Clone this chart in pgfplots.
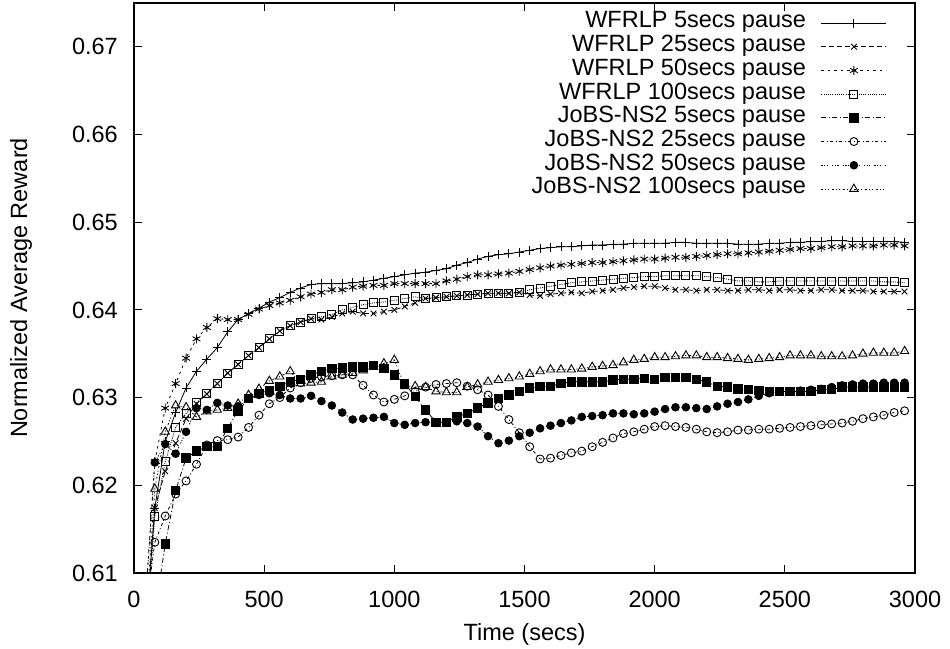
\documentclass[border=0pt]{standalone}
\usepackage{pgfplots}
\pgfplotsset{compat=1.18}
\usepackage{pgfplotstable}
\usepackage{fontspec}
\setmainfont{Liberation Sans}

\pgfplotstableread{
t w5 w25 w50 w100 j5 j25 j50 j100
40 0.6020 0.6010 0.6050 0.6000 0.5950 0.6043 0.6050 0.6020
80 0.6174 0.6174 0.6227 0.6165 0.6054 0.6135 0.6226 0.6196
120 0.6250 0.6216 0.6288 0.6227 0.6133 0.6165 0.6247 0.6261
160 0.6283 0.6248 0.6316 0.6266 0.6194 0.6190 0.6236 0.6291
200 0.6311 0.6276 0.6345 0.6282 0.6231 0.6205 0.6261 0.6289
240 0.6330 0.6293 0.6367 0.6294 0.6239 0.6224 0.6288 0.6278
280 0.6344 0.6304 0.6380 0.6305 0.6244 0.6246 0.6286 0.6284
320 0.6357 0.6316 0.6390 0.6316 0.6244 0.6251 0.6294 0.6286
360 0.6375 0.6328 0.6389 0.6328 0.6265 0.6252 0.6291 0.6288
400 0.6389 0.6338 0.6389 0.6338 0.6285 0.6255 0.6290 0.6293
440 0.6396 0.6348 0.6395 0.6348 0.6299 0.6266 0.6299 0.6303
480 0.6402 0.6357 0.6401 0.6357 0.6305 0.6280 0.6303 0.6310
520 0.6409 0.6367 0.6405 0.6367 0.6308 0.6293 0.6305 0.6319
560 0.6414 0.6376 0.6408 0.6376 0.6313 0.6300 0.6303 0.6324
600 0.6420 0.6382 0.6411 0.6382 0.6318 0.6311 0.6299 0.6330
640 0.6425 0.6386 0.6415 0.6386 0.6321 0.6317 0.6299 0.6316
680 0.6429 0.6390 0.6418 0.6390 0.6326 0.6322 0.6302 0.6317
720 0.6430 0.6389 0.6420 0.6392 0.6330 0.6324 0.6296 0.6318
760 0.6430 0.6392 0.6423 0.6395 0.6333 0.6325 0.6291 0.6324
800 0.6430 0.6396 0.6423 0.6400 0.6334 0.6326 0.6283 0.6326
840 0.6431 0.6398 0.6426 0.6403 0.6335 0.6326 0.6275 0.6328
880 0.6432 0.6396 0.6427 0.6406 0.6335 0.6314 0.6276 0.6331
920 0.6434 0.6396 0.6428 0.6408 0.6337 0.6303 0.6277 0.6335
960 0.6436 0.6398 0.6428 0.6409 0.6333 0.6295 0.6278 0.6339
1000 0.6438 0.6400 0.6430 0.6411 0.6326 0.6298 0.6271 0.6343
1040 0.6440 0.6404 0.6430 0.6413 0.6316 0.6302 0.6269 0.6313
1080 0.6442 0.6408 0.6430 0.6415 0.6301 0.6307 0.6271 0.6313
1120 0.6443 0.6413 0.6430 0.6413 0.6286 0.6312 0.6272 0.6312
1160 0.6445 0.6414 0.6430 0.6414 0.6272 0.6315 0.6271 0.6307
1200 0.6447 0.6415 0.6433 0.6415 0.6272 0.6316 0.6272 0.6306
1240 0.6451 0.6416 0.6435 0.6416 0.6278 0.6317 0.6273 0.6306
1280 0.6454 0.6417 0.6438 0.6417 0.6282 0.6313 0.6271 0.6312
1320 0.6458 0.6418 0.6440 0.6418 0.6288 0.6309 0.6267 0.6315
1360 0.6461 0.6419 0.6440 0.6419 0.6294 0.6303 0.6256 0.6318
1400 0.6463 0.6419 0.6441 0.6419 0.6299 0.6290 0.6248 0.6320
1440 0.6464 0.6419 0.6442 0.6419 0.6303 0.6275 0.6251 0.6322
1480 0.6466 0.6420 0.6444 0.6420 0.6307 0.6260 0.6256 0.6324
1520 0.6468 0.6417 0.6446 0.6423 0.6311 0.6244 0.6260 0.6327
1560 0.6470 0.6416 0.6448 0.6425 0.6313 0.6230 0.6265 0.6330
1600 0.6471 0.6418 0.6450 0.6427 0.6313 0.6231 0.6268 0.6332
1640 0.6472 0.6419 0.6451 0.6429 0.6316 0.6234 0.6271 0.6332
1680 0.6472 0.6420 0.6452 0.6431 0.6318 0.6237 0.6274 0.6332
1720 0.6473 0.6419 0.6453 0.6432 0.6318 0.6239 0.6278 0.6333
1760 0.6474 0.6421 0.6454 0.6433 0.6318 0.6244 0.6279 0.6335
1800 0.6474 0.6422 0.6454 0.6434 0.6318 0.6249 0.6280 0.6336
1840 0.6475 0.6423 0.6455 0.6435 0.6320 0.6254 0.6282 0.6337
1880 0.6475 0.6425 0.6456 0.6436 0.6321 0.6259 0.6282 0.6340
1920 0.6476 0.6426 0.6457 0.6437 0.6321 0.6261 0.6281 0.6343
1960 0.6476 0.6427 0.6458 0.6438 0.6322 0.6264 0.6282 0.6344
2000 0.6476 0.6427 0.6458 0.6438 0.6321 0.6267 0.6284 0.6346
2040 0.6476 0.6425 0.6459 0.6439 0.6323 0.6268 0.6287 0.6346
2080 0.6477 0.6423 0.6460 0.6439 0.6323 0.6267 0.6289 0.6347
2120 0.6477 0.6423 0.6460 0.6439 0.6323 0.6266 0.6289 0.6348
2160 0.6476 0.6422 0.6461 0.6439 0.6321 0.6264 0.6288 0.6348
2200 0.6476 0.6423 0.6462 0.6438 0.6318 0.6261 0.6287 0.6346
2240 0.6476 0.6423 0.6463 0.6437 0.6313 0.6260 0.6290 0.6346
2280 0.6476 0.6422 0.6464 0.6435 0.6312 0.6261 0.6293 0.6345
2320 0.6475 0.6422 0.6464 0.6433 0.6310 0.6263 0.6295 0.6344
2360 0.6475 0.6423 0.6465 0.6433 0.6309 0.6263 0.6298 0.6343
2400 0.6475 0.6423 0.6466 0.6432 0.6308 0.6264 0.6302 0.6344
2440 0.6476 0.6422 0.6467 0.6432 0.6307 0.6264 0.6305 0.6345
2480 0.6476 0.6423 0.6468 0.6433 0.6307 0.6265 0.6307 0.6346
2520 0.6477 0.6423 0.6469 0.6433 0.6307 0.6266 0.6307 0.6348
2560 0.6477 0.6422 0.6470 0.6433 0.6307 0.6267 0.6308 0.6348
2600 0.6478 0.6422 0.6470 0.6433 0.6307 0.6268 0.6309 0.6348
2640 0.6478 0.6423 0.6471 0.6433 0.6309 0.6269 0.6310 0.6347
2680 0.6479 0.6423 0.6472 0.6433 0.6309 0.6270 0.6312 0.6347
2720 0.6479 0.6422 0.6472 0.6433 0.6312 0.6271 0.6314 0.6347
2760 0.6478 0.6422 0.6473 0.6433 0.6312 0.6273 0.6315 0.6348
2800 0.6478 0.6422 0.6473 0.6433 0.6312 0.6276 0.6316 0.6350
2840 0.6478 0.6421 0.6473 0.6433 0.6312 0.6278 0.6316 0.6351
2880 0.6478 0.6421 0.6474 0.6432 0.6312 0.6280 0.6317 0.6351
2920 0.6478 0.6421 0.6474 0.6432 0.6312 0.6283 0.6317 0.6351
2960 0.6477 0.6421 0.6473 0.6431 0.6312 0.6285 0.6317 0.6353
}\data

\begin{document}
\begin{tikzpicture}[font=\fontsize{23.5}{28}\selectfont]
\useasboundingbox (-134pt,-75pt) rectangle (816pt,573pt);
\begin{axis}[
  scale only axis,
  width=781pt, height=570pt,
  xmin=0, xmax=3000, ymin=0.61, ymax=0.675,
  xtick={0,500,1000,1500,2000,2500,3000},
  ytick={0.61,0.62,0.63,0.64,0.65,0.66,0.67},
  tick align=inside,
  tick pos=both,
  major tick length=8pt,
  scaled ticks=false,
  /pgf/number format/assume math mode=true,
  x tick label style={/pgf/number format/1000 sep={}, anchor=north, inner sep=0pt, yshift=-18pt},
  y tick label style={/pgf/number format/.cd, fixed, fixed zerofill, precision=2, /tikz/.cd, anchor=east, inner sep=0pt, xshift=-16pt},
  xlabel={Time (secs)},
  ylabel={Normalized Average Reward},
  xlabel style={at={(axis description cs:0.5,-0.107)}, anchor=center},
  ylabel style={at={(axis description cs:-0.1447,0.5)}, anchor=center},
  axis line style={line width=1.3pt},
  every tick/.style={line width=1pt, black},
  legend plot pos=right,
  legend cell align=right,
  legend style={draw=none, fill=none, at={(1,1)}, anchor=north east, xshift=-28pt, yshift=-8pt,
    inner sep=0pt, row sep=0pt, column sep=0pt,
    nodes={inner sep=0pt, inner xsep=15pt, text height=16.8pt, text depth=6.9pt}},
  legend image code/.code={\draw[mark repeat=2, mark phase=2] plot coordinates {(0pt,0pt) (32.5pt,0pt) (65pt,0pt)};},
  every axis plot/.append style={black, line width=0.8pt, mark options={solid, line width=0.9pt}},
]
\addplot[mark=+, mark size=4.5pt] table[x=t, y=w5] {\data};
\addlegendentry{WFRLP 5secs pause}
\addplot[dash pattern=on 5pt off 3pt, mark=x, mark size=4pt] table[x=t, y=w25] {\data};
\addlegendentry{WFRLP 25secs pause}
\addplot[dash pattern=on 2.5pt off 4pt, mark=asterisk, mark size=4.5pt] table[x=t, y=w50] {\data};
\addlegendentry{WFRLP 50secs pause}
\addplot[dash pattern=on 1pt off 1.2pt, mark=square, mark size=4pt] table[x=t, y=w100] {\data};
\addlegendentry{WFRLP 100secs pause}
\addplot[dash pattern=on 5pt off 2.5pt on 1pt off 2.5pt, mark=square*, mark size=4.2pt] table[x=t, y=j5] {\data};
\addlegendentry{JoBS-NS2 5secs pause}
\addplot[dash pattern=on 3pt off 2.5pt on 1pt off 2.5pt, mark=o, mark size=4pt] table[x=t, y=j25] {\data};
\addlegendentry{JoBS-NS2 25secs pause}
\addplot[dash pattern=on 1.2pt off 1.5pt on 1.2pt off 1.5pt on 1.2pt off 4pt, mark=*, mark size=3.8pt] table[x=t, y=j50] {\data};
\addlegendentry{JoBS-NS2 50secs pause}
\addplot[dash pattern=on 2pt off 2pt on 1pt off 2pt on 1pt off 3pt, mark=triangle, mark size=4.8pt] table[x=t, y=j100] {\data};
\addlegendentry{JoBS-NS2 100secs pause}
\end{axis}
\end{tikzpicture}
\end{document}
